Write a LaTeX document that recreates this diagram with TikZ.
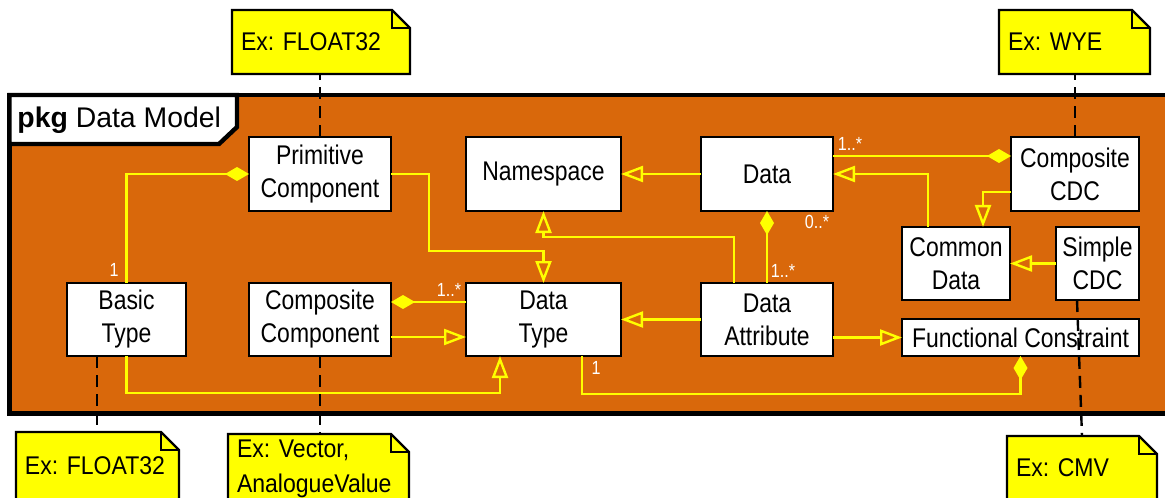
\documentclass[tikz,border=0pt]{standalone}
\usepackage{fontspec}
\setmainfont{Liberation Sans}
\newfontfamily\boxfont{Liberation Sans}[FakeStretch=0.85]
\newfontfamily\notefont{Liberation Sans}[FakeStretch=0.9]
\usetikzlibrary{arrows.meta}
\pgfdeclarelayer{background}
\pgfsetlayers{background,main}
\definecolor{pkgorange}{RGB}{217,104,11}
\definecolor{uyellow}{RGB}{255,255,0}
\frenchspacing
\begin{document}
\begin{tikzpicture}[x=0.5pt,y=-0.5pt,
  cls/.style={draw=black, fill=white, line width=1.1pt, inner sep=0pt, outer sep=0pt, align=center, font=\boxfont\fontsize{13.5}{16.5}\selectfont},
  notebox/.style={anchor=north west, inner xsep=4.5pt, inner ysep=0pt, outer sep=0pt, align=left, font=\notefont\fontsize{12.8}{17.5}\selectfont},
  notefill/.style={draw=black, fill=uyellow, line width=1.2pt, line join=miter},
  conn/.style={draw=uyellow, line width=1.2pt},
  gen/.style={conn, -{Triangle[open, length=11pt, width=8pt, line width=1.2pt]}},
  comp/.style={conn, -{Diamond[length=12pt, width=7pt]}},
  anchorline/.style={draw=black, line width=1.2pt, dash pattern=on 6pt off 3.5pt},
  mult/.style={text=white, font=\boxfont\fontsize{9.5}{10}\selectfont, inner sep=0pt},
]
\useasboundingbox (0,0) rectangle (1165,497);
\clip (0,0) rectangle (1165,497);

% package frame
\draw[line width=2.2pt, fill=pkgorange] (9.5,95) rectangle (1190,413.5);
\draw[line width=2.2pt, fill=white, line join=miter] (9.5,95) -- (237,95) -- (237,127) -- (219,144) -- (9.5,144) -- cycle;
\node[anchor=base west, inner sep=0pt, font=\fontsize{14.2}{16}\selectfont] (title) at (17,128) {\textbf{pkg} Data Model};

% classes
\node[cls, minimum width=71pt, minimum height=37pt] (prim) at (320,174) {Primitive\\Component};
\node[cls, minimum width=77.5pt, minimum height=37pt] (ns) at (543.5,174) {Namespace};
\node[cls, minimum width=66pt, minimum height=37pt] (data) at (767,174) {Data};
\node[cls, minimum width=64pt, minimum height=37pt] (ccdc) at (1075,174) {Composite\\CDC};
\node[cls, minimum width=54pt, minimum height=36.5pt] (comdata) at (956,263.5) {Common\\Data};
\node[cls, minimum width=41.5pt, minimum height=36.5pt] (scdc) at (1097.5,263.5) {Simple\\CDC};
\node[cls, minimum width=59.5pt, minimum height=36.5pt] (basic) at (126.5,319.5) {Basic\\Type};
\node[cls, minimum width=71pt, minimum height=36.5pt] (ccomp) at (320,319.5) {Composite\\Component};
\node[cls, minimum width=77.5pt, minimum height=36.5pt] (dtype) at (543.5,319.5) {Data\\Type};
\node[cls, minimum width=66pt, minimum height=36.5pt] (dattr) at (767,319.5) {Data\\Attribute};
\node[cls, minimum width=118.5pt, minimum height=18.5pt] (fc) at (1020.5,337.5) {Functional Constraint};

% notes
\node[notebox, text width=80pt, minimum height=32pt] (n1) at (232,10) {Ex: FLOAT32};
\node[notebox, text width=66.5pt, minimum height=32pt] (n2) at (999,10) {Ex: WYE};
\node[notebox, text width=72.5pt, minimum height=34pt] (n3) at (16,432) {Ex: FLOAT32};
\node[notebox, text width=81.5pt, minimum height=34.5pt] (n4) at (228,434) {Ex: Vector,\\AnalogueValue};
\node[notebox, text width=66pt, minimum height=32pt] (n5) at (1007,436) {Ex: CMV};
\begin{pgfonlayer}{background}
\foreach \n in {n1,n2,n3,n4,n5}{
  \draw[notefill] (\n.north west) -- ([xshift=-9pt]\n.north east) -- ([yshift=-9pt]\n.north east) -- (\n.south east) -- (\n.south west) -- cycle;
  \draw[notefill, fill=none] ([xshift=-9pt]\n.north east) |- ([yshift=-9pt]\n.north east);
}
\end{pgfonlayer}

% connectors
\draw[comp] (basic.north) |- (prim.west);
\draw[gen] (prim.east) -| (429,251) -| (dtype.north);
\draw[comp] ([yshift=8.75pt]dtype.west) -- ([yshift=8.75pt]ccomp.east);
\draw[gen] ([yshift=-8.75pt]ccomp.east) -- ([yshift=-8.75pt]dtype.west);
\draw[gen] (basic.south) -- ++(0,37) -| ([xshift=-21.75pt]dtype.south);
\draw[gen] (data.west) -- (ns.east);
\draw[gen] ([xshift=-16.5pt]dattr.north) -- ++(0,-46) -| (ns.south);
\draw[comp] (dattr.north) -- (data.south);
\draw[gen] (dattr.west) -- (dtype.east);
\draw[gen] (fc.west -| dattr.east) -- (fc.west);
\draw[comp] ([xshift=19.25pt]dtype.south) -- ++(0,38) -| (fc.south);
\draw[comp] ([yshift=9pt]data.east) -- ([yshift=9pt]ccdc.west);
\draw[gen] ([xshift=-14pt]comdata.north) |- (data.east);
\draw[gen] ([yshift=-9pt]ccdc.west) -| ([xshift=13.5pt]comdata.north);
\draw[gen] (scdc.west) -- (comdata.east);

% note anchors
\draw[anchorline] (prim.north) -- (prim.north |- n1.south);
\draw[anchorline] (ccdc.north) -- (ccdc.north |- n2.south);
\draw[anchorline] ([xshift=-14.75pt]basic.south) -- ([xshift=-14.75pt]basic.south |- n3.north);
\draw[anchorline] (ccomp.south) -- (ccomp.south |- n4.north);
\draw[anchorline] ([xshift=-10.25pt]scdc.south) -- (n5.north);

% multiplicities
\node[mult] (m1) at (114,270) {1};
\node[mult] (m2) at (449,290) {1..*};
\node[mult] (m3) at (596,368) {1};
\node[mult] (m4) at (850,144) {1..*};
\node[mult] (m5) at (817,222) {0..*};
\node[mult] (m6) at (783,271) {1..*};
\end{tikzpicture}
\end{document}
